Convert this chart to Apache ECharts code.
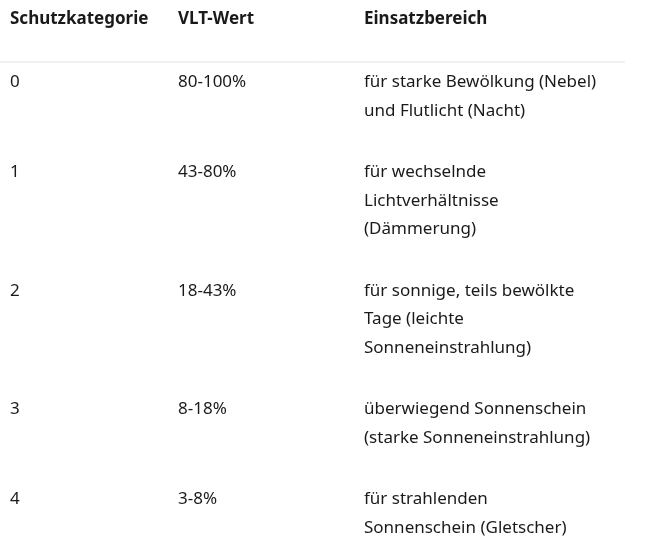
<!DOCTYPE html>
<html><head><meta charset="utf-8">
<script src="https://cdn.jsdelivr.net/npm/echarts@6/dist/echarts.min.js"></script>
<style>html,body{margin:0;padding:0;background:#fff}#c{width:647px;height:557px}</style>
</head><body><div id="c"></div>
<script>
const headers = ['Schutzkategorie', 'VLT-Wert', 'Einsatzbereich'];
const categories = ['0', '1', '2', '3', '4'];
const vltValues = ['80-100%', '43-80%', '18-43%', '8-18%', '3-8%'];
const usage = [
  ['für starke Bewölkung (Nebel)', 'und Flutlicht (Nacht)'],
  ['für wechselnde', 'Lichtverhältnisse', '(Dämmerung)'],
  ['für sonnige, teils bewölkte', 'Tage (leichte', 'Sonneneinstrahlung)'],
  ['überwiegend Sonnenschein', '(starke Sonneneinstrahlung)'],
  ['für strahlenden', 'Sonnenschein (Gletscher)']
];
const colX = [10, 178, 364];
const lineH = 28.5, rowGap = 33, font = '"Noto Sans", sans-serif', fs = 17;
const els = [];
headers.forEach((h, i) => els.push({type:'text', left: colX[i], top: 11,
  style:{text:h, font:`bold ${fs}px ${font}`, fill:'#1a1a1a'}}));
els.push({type:'line', shape:{x1:0,y1:62,x2:625,y2:62}, style:{stroke:'#e3e3e3', lineWidth:1}});
let y = 74;
categories.forEach((c, r) => {
  els.push({type:'text', left: colX[0], top: y, style:{text:c, font:`${fs}px ${font}`, fill:'#1a1a1a'}});
  els.push({type:'text', left: colX[1], top: y, style:{text:vltValues[r], font:`${fs}px ${font}`, fill:'#1a1a1a'}});
  usage[r].forEach((t, k) => els.push({type:'text', left: colX[2], top: y + k*lineH,
    style:{text:t, font:`${fs}px ${font}`, fill:'#1a1a1a'}}));
  y += usage[r].length*lineH + rowGap;
});
const chart = echarts.init(document.getElementById('c'));
chart.setOption({animation:false, graphic: els});
</script></body></html>
